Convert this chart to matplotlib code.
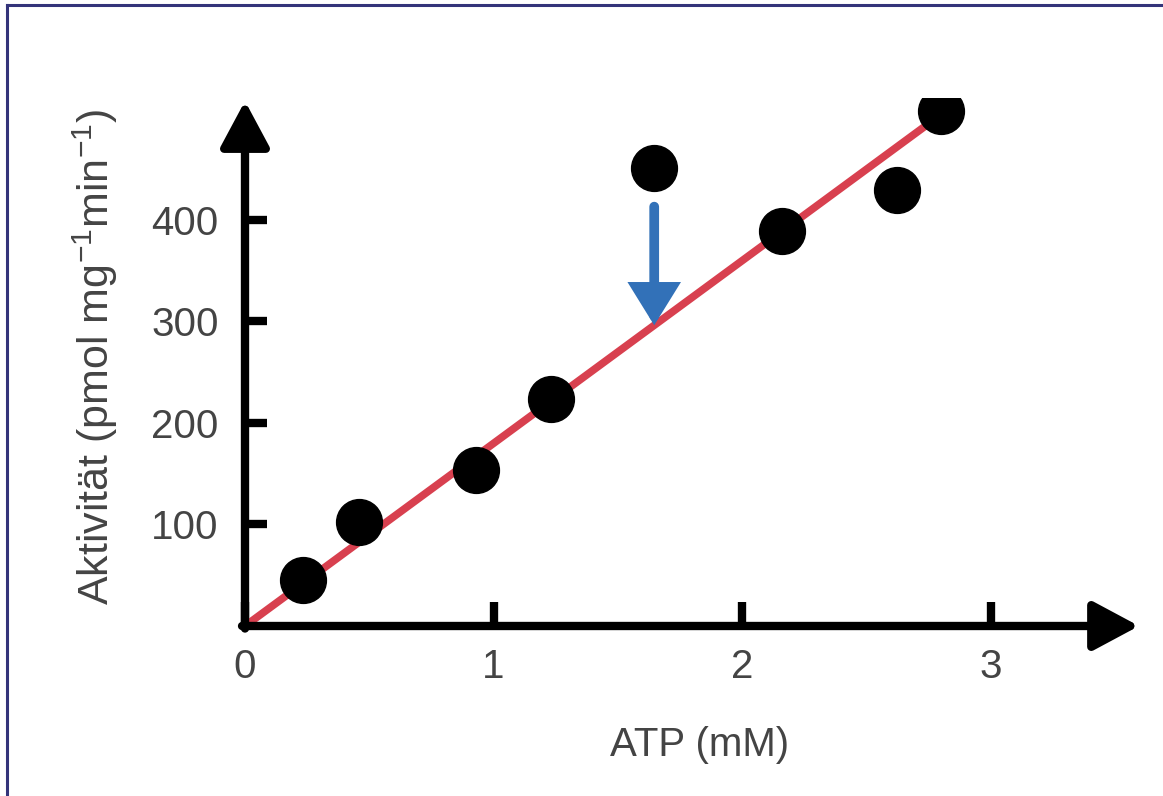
import matplotlib
matplotlib.use("Agg")
import matplotlib.pyplot as plt
from matplotlib.lines import Line2D

plt.rcParams['font.family'] = ['Liberation Sans', 'DejaVu Sans']
plt.rcParams['mathtext.fontset'] = 'custom'
plt.rcParams['mathtext.rm'] = 'Liberation Sans'
plt.rcParams['mathtext.it'] = 'Liberation Sans:italic'
plt.rcParams['mathtext.bf'] = 'Liberation Sans:bold'

# ---- data ----
atp_mM = [0.233, 0.458, 0.929, 1.230, 1.646, 2.162, 2.624, 2.801]
activity = [45, 102, 154, 224, 451, 389, 429, 507]
fit_x = [0.0, 2.79]
fit_y = [0.0, 502.0]
outlier_index = 4
x_ticks = [0, 1, 2, 3]
x_tick_labels = ["0", "1", "2", "3"]
y_ticks = [100, 200, 300, 400]
y_tick_labels = ["100", "200", "300", "400"]
x_label = "ATP (mM)"
y_label = "Aktivität (pmol mg$^{-1}$min$^{-1}$)"

W, H = 1163, 796
fig = plt.figure(figsize=(W / 100, H / 100), dpi=100)
fig.patch.set_facecolor('white')

ax_left, ax_right, ax_bottom, ax_top = 245, 1140, 626, 98
ax = fig.add_axes([ax_left / W, 1 - ax_bottom / H,
                   (ax_right - ax_left) / W, (ax_bottom - ax_top) / H])
ax.set_xlim(0, 3.6)
ax.set_ylim(0, 520)
for s in ax.spines.values():
    s.set_visible(False)

text_color = '#444444'
fs = 29

# fitted line
ax.plot(fit_x, fit_y, color='#d8404f', lw=5.5, solid_capstyle='butt', zorder=2)

# data points
ax.plot(atp_mM, activity, 'o', color='black', markersize=33, zorder=4)

# blue arrow from outlier down to the fit line
ox = atp_mM[outlier_index]
oy = activity[outlier_index]
line_at_ox = fit_y[0] + (fit_y[1] - fit_y[0]) * (ox - fit_x[0]) / (fit_x[1] - fit_x[0])
ax.annotate('', xy=(ox, line_at_ox), xytext=(ox, oy - 38),
            arrowprops=dict(arrowstyle='-|>,head_length=21,head_width=13',
                            mutation_scale=1, lw=7, color='#3271b8',
                            shrinkA=0, shrinkB=0, joinstyle='miter'),
            zorder=3)

# axes with arrowheads
arrow_kw = dict(arrowstyle='-|>,head_length=28,head_width=15', mutation_scale=1,
                lw=6, color='black', shrinkA=0, shrinkB=0)
ax.annotate('', xy=(3.596, 0), xytext=(-0.012, 0), arrowprops=arrow_kw,
            annotation_clip=False, zorder=5)
ax.annotate('', xy=(0, 517), xytext=(0, -2.5), arrowprops=arrow_kw,
            annotation_clip=False, zorder=5)

ax.set_xticks(x_ticks)
ax.set_xticklabels(x_tick_labels)
ax.set_yticks(y_ticks)
ax.set_yticklabels(y_tick_labels)
ax.tick_params(axis='x', direction='in', length=17, width=6, color='black',
               pad=16, labelsize=fs, labelcolor=text_color)
ax.tick_params(axis='y', direction='in', length=16, width=6, color='black',
               pad=19, labelsize=fs, labelcolor=text_color)

ax.set_xlabel(x_label, fontsize=fs, color=text_color)
ax.xaxis.set_label_coords((700 - ax_left) / (ax_right - ax_left),
                          -(726 - ax_bottom) / (ax_bottom - ax_top))
ax.set_ylabel(y_label, fontsize=31, color=text_color)
ax.yaxis.set_label_coords(-(ax_left - 120) / (ax_right - ax_left),
                          (ax_bottom - 357) / (ax_bottom - ax_top))

# frame lines at top and left of the picture
border = '#34347a'
fig.add_artist(Line2D([7 / W, 1], [1 - 5 / H, 1 - 5 / H], transform=fig.transFigure,
                      color=border, lw=2.2))
fig.add_artist(Line2D([7 / W, 7 / W], [0, 1 - 5 / H], transform=fig.transFigure,
                      color=border, lw=2.2))

fig.savefig('out.png', dpi=100, facecolor='white')
